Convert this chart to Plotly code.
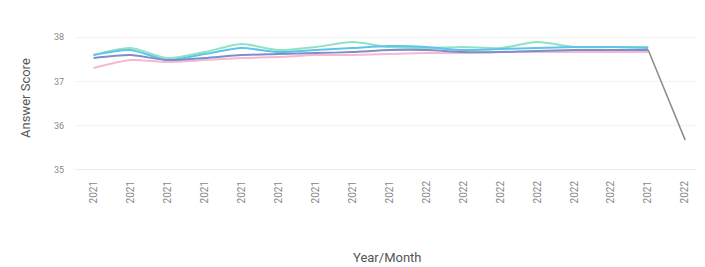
import plotly.graph_objects as go

months = list(range(17))
tick_labels = ["2021"] * 9 + ["2022"] * 6 + ["2021", "2022"]

def px2v(p):
    return 38 - (p - 37) / 44.3

series_green = [px2v(p) for p in [55, 48, 58, 52, 44, 50, 47, 42, 47, 48, 47, 48, 42, 47, 47, 47]]
series_lightblue = [px2v(p) for p in [55, 50, 60, 54, 48, 52, 50, 48, 46, 47, 50, 49, 48, 47, 47, 48]]
series_pink = [px2v(p) for p in [68, 60, 62, 60, 58, 57, 55, 55, 54, 53, 53, 52, 52, 52, 52, 52]]
series_dark = [px2v(p) for p in [58, 55, 60, 58, 55, 54, 53, 52, 50, 50, 52, 52, 51, 50, 50, 50, 140]]

fig = go.Figure()
specs = [
    (series_pink, "#f6b8d2"),
    (series_green, "#8fe3c2"),
    (series_lightblue, "#5fc3ea"),
    (series_dark[:16], "#7d8fc8"),
]
for vals, col in specs:
    fig.add_trace(go.Scatter(x=months[:len(vals)], y=vals, mode="lines",
                             line=dict(color=col, width=2, shape="spline", smoothing=0.7),
                             showlegend=False))
# grey drop segment at the end
fig.add_trace(go.Scatter(x=months[15:17], y=series_dark[15:17], mode="lines",
                         line=dict(color="#8a8a8a", width=1.5), showlegend=False))

fig.update_layout(
    width=697, height=259,
    margin=dict(l=67, r=5, t=18, b=97, autoexpand=False),
    paper_bgcolor="white", plot_bgcolor="white",
    font=dict(family="Roboto, Arial, sans-serif", color="#666", size=10),
    xaxis=dict(tickmode="array", tickvals=months, ticktext=tick_labels,
               tickangle=-90, range=[-0.5, 16.4], showgrid=False, zeroline=False,
               showline=False, automargin=False, ticks="outside", ticklen=6,
               tickcolor="rgba(0,0,0,0)", tickfont=dict(size=10, color="#888")),
    yaxis=dict(range=[35, 38.25], tickvals=[35, 36, 37, 38], showgrid=True,
               gridcolor="#f3f3f3", zeroline=False, showline=False, automargin=False,
               ticks="outside", ticklen=8, tickcolor="rgba(0,0,0,0)",
               tickfont=dict(size=9, color="#888")),
    shapes=[dict(type="line", xref="paper", yref="y", x0=0, x1=1, y0=35, y1=35,
                 line=dict(color="#d8d8d8", width=1))],
    annotations=[
        dict(text="Year/Month", xref="paper", yref="paper", x=0.5, y=-0.61,
             xanchor="center", yanchor="middle", showarrow=False,
             font=dict(size=13, color="#555")),
        dict(text="Answer Score", xref="paper", yref="paper", x=-0.08, y=0.5,
             xanchor="center", yanchor="middle", showarrow=False, textangle=-90,
             font=dict(size=13, color="#555")),
    ],
)
fig.write_html("out.html")
